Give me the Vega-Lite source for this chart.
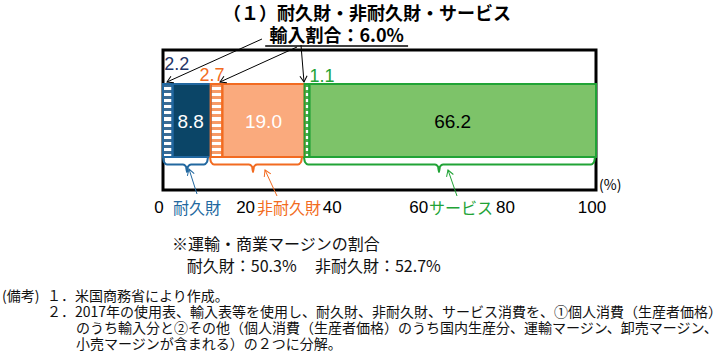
{
  "$schema": "https://vega.github.io/schema/vega-lite/v6.json",
  "width": 433,
  "height": 140,
  "autosize": {"type": "none"},
  "padding": {"left": 163, "top": 50, "right": 132, "bottom": 162},
  "background": "white",
  "config": {"view": {"stroke": "#000000", "strokeWidth": 3}},
  "datasets": {
    "bars": [
      {"seq": 1, "seg": "imp_durable", "grp": "durable", "value": 2.2},
      {"seq": 2, "seg": "durable", "grp": "durable", "value": 8.8},
      {"seq": 3, "seg": "imp_nondurable", "grp": "nondurable", "value": 2.7},
      {"seq": 4, "seg": "nondurable", "grp": "nondurable", "value": 19.0},
      {"seq": 5, "seg": "imp_services", "grp": "services", "value": 1.1},
      {"seq": 6, "seg": "services", "grp": "services", "value": 66.2}
    ],
    "braces": [
      {"brace": "durable", "i": 1, "x": 0, "y": 3.3},
      {"brace": "durable", "i": 2, "x": 0.23, "y": 2.8},
      {"brace": "durable", "i": 3, "x": 0.92, "y": 2.55},
      {"brace": "durable", "i": 4, "x": 4.62, "y": 2.55},
      {"brace": "durable", "i": 5, "x": 5.31, "y": 2.35},
      {"brace": "durable", "i": 6, "x": 5.54, "y": 1.8},
      {"brace": "durable", "i": 7, "x": 5.77, "y": 2.35},
      {"brace": "durable", "i": 8, "x": 6.47, "y": 2.55},
      {"brace": "durable", "i": 9, "x": 9.47, "y": 2.55},
      {"brace": "durable", "i": 10, "x": 10.16, "y": 2.8},
      {"brace": "durable", "i": 11, "x": 10.39, "y": 3.3},
      {"brace": "nondurable", "i": 1, "x": 10.85, "y": 3.3},
      {"brace": "nondurable", "i": 2, "x": 11.09, "y": 2.8},
      {"brace": "nondurable", "i": 3, "x": 11.78, "y": 2.55},
      {"brace": "nondurable", "i": 4, "x": 19.86, "y": 2.55},
      {"brace": "nondurable", "i": 5, "x": 20.55, "y": 2.35},
      {"brace": "nondurable", "i": 6, "x": 20.79, "y": 1.8},
      {"brace": "nondurable", "i": 7, "x": 21.02, "y": 2.35},
      {"brace": "nondurable", "i": 8, "x": 21.71, "y": 2.55},
      {"brace": "nondurable", "i": 9, "x": 31.18, "y": 2.55},
      {"brace": "nondurable", "i": 10, "x": 31.87, "y": 2.8},
      {"brace": "nondurable", "i": 11, "x": 32.1, "y": 3.3},
      {"brace": "services", "i": 1, "x": 32.56, "y": 3.3},
      {"brace": "services", "i": 2, "x": 32.79, "y": 2.8},
      {"brace": "services", "i": 3, "x": 33.49, "y": 2.55},
      {"brace": "services", "i": 4, "x": 62.82, "y": 2.55},
      {"brace": "services", "i": 5, "x": 63.51, "y": 2.35},
      {"brace": "services", "i": 6, "x": 63.74, "y": 1.8},
      {"brace": "services", "i": 7, "x": 63.97, "y": 2.35},
      {"brace": "services", "i": 8, "x": 64.67, "y": 2.55},
      {"brace": "services", "i": 9, "x": 98.85, "y": 2.55},
      {"brace": "services", "i": 10, "x": 99.54, "y": 2.8},
      {"brace": "services", "i": 11, "x": 99.77, "y": 3.3}
    ],
    "arrows": [
      {"kind": "arrow", "x": 22.86, "y": 15.1, "x2": 0.92, "y2": 10.8, "heading": 65.6, "tone": "neutral"},
      {"kind": "arrow", "x": 30.95, "y": 14.3, "x2": 13.16, "y2": 10.8, "heading": 65.6, "tone": "neutral"},
      {"kind": "arrow", "x": 31.87, "y": 14.5, "x2": 32.56, "y2": 10.8, "heading": -4.6, "tone": "neutral"},
      {"kind": "arrow", "x": 7.85, "y": -0.4, "x2": 6.0, "y2": 2.1, "heading": 162.3, "tone": "durable"},
      {"kind": "arrow", "x": 26.33, "y": -0.6, "x2": 23.56, "y2": 2.0, "heading": 155.2, "tone": "nondurable"},
      {"kind": "arrow", "x": 67.9, "y": -0.6, "x2": 65.82, "y2": 2.0, "heading": 160.9, "tone": "services"},
      {"kind": "underline", "x": 23.6, "y": 14.4, "x2": 56.6, "y2": 14.4, "heading": 0, "tone": "neutral"}
    ],
    "texts": [
      {"kind": "title", "text": "（１）耐久財・非耐久財・サービス", "x": 47.1, "y": 17.5, "tone": "neutral"},
      {"kind": "subtitle", "text": "輸入割合：6.0%", "x": 40.1, "y": 15.35, "tone": "neutral"},
      {"kind": "callout", "text": "2.2", "x": 3.2, "y": 12.5, "tone": "durable_dark"},
      {"kind": "callout", "text": "2.7", "x": 11.3, "y": 11.4, "tone": "nondurable"},
      {"kind": "callout", "text": "1.1", "x": 36.7, "y": 11.3, "tone": "services"},
      {"kind": "inbar", "text": "8.8", "x": 6.4, "y": 6.8, "tone": "inside_light"},
      {"kind": "inbar", "text": "19.0", "x": 23.2, "y": 6.8, "tone": "inside_light"},
      {"kind": "inbar", "text": "66.2", "x": 66.9, "y": 6.8, "tone": "neutral"},
      {"kind": "tick", "text": "0", "x": 0, "y": -1.8, "tone": "neutral"},
      {"kind": "tick", "text": "20", "x": 20, "y": -1.8, "tone": "neutral"},
      {"kind": "tick", "text": "40", "x": 40, "y": -1.8, "tone": "neutral"},
      {"kind": "tick", "text": "60", "x": 60, "y": -1.8, "tone": "neutral"},
      {"kind": "tick", "text": "80", "x": 80, "y": -1.8, "tone": "neutral"},
      {"kind": "tick", "text": "100", "x": 100, "y": -1.8, "tone": "neutral"},
      {"kind": "category", "text": "耐久財", "x": 7.85, "y": -1.9, "tone": "durable"},
      {"kind": "category", "text": "非耐久財", "x": 29.1, "y": -1.9, "tone": "nondurable"},
      {"kind": "category", "text": "サービス", "x": 68.8, "y": -1.9, "tone": "services"},
      {"kind": "unit", "text": "(%)", "x": 100.7, "y": 0.4, "tone": "neutral"},
      {"kind": "margin", "text": "※運輸・商業マージンの割合", "x": 2.1, "y": -5.5, "tone": "neutral"},
      {"kind": "margin", "text": "耐久財：50.3%", "x": 5.5, "y": -7.7, "tone": "neutral"},
      {"kind": "margin", "text": "非耐久財：52.7%", "x": 35.1, "y": -7.7, "tone": "neutral"},
      {"kind": "note", "text": "(備考)", "x": -37.2, "y": -10.7, "tone": "neutral"},
      {"kind": "note", "text": "１．米国商務省により作成。", "x": -26.8, "y": -10.7, "tone": "neutral"},
      {"kind": "note", "text": "２．2017年の使用表、輸入表等を使用し、耐久財、非耐久財、サービス消費を、①個人消費（生産者価格）", "x": -26.8, "y": -12.3, "tone": "neutral"},
      {"kind": "note", "text": "のうち輸入分と②その他（個人消費（生産者価格）のうち国内生産分、運輸マージン、卸売マージン、", "x": -20.1, "y": -13.9, "tone": "neutral"},
      {"kind": "note", "text": "小売マージンが含まれる）の２つに分解。", "x": -20.1, "y": -15.5, "tone": "neutral"}
    ]
  },
  "layer": [
    {
      "data": {"name": "bars"},
      "transform": [{"stack": "value", "groupby": [], "sort": [{"field": "seq", "order": "ascending"}], "as": ["x0", "x1"]}],
      "mark": {"type": "rect"},
      "encoding": {
        "x": {"field": "x0", "type": "quantitative", "scale": {"domain": [0, 100], "nice": false, "zero": false}, "axis": null},
        "x2": {"field": "x1"},
        "y": {"datum": 10.6, "type": "quantitative", "scale": {"domain": [0, 14], "nice": false, "zero": false}, "axis": null},
        "y2": {"datum": 3.3},
        "fill": {"field": "seg", "type": "nominal", "legend": null,
          "scale": {"domain": ["imp_durable", "durable", "imp_nondurable", "nondurable", "imp_services", "services"],
                    "range": ["#ffffff", "#0b4567", "#ffffff", "#faaa7d", "#ffffff", "#7dc369"]}}
      }
    },
    {
      "data": {"name": "bars"},
      "transform": [{"stack": "value", "groupby": [], "sort": [{"field": "seq", "order": "ascending"}], "as": ["x0", "x1"]}, {"filter": {"field": "seg", "equal": "imp_durable"}}],
      "mark": {"type": "rect", "fill": {"gradient": "linear", "x1": 0, "y1": 0, "x2": 0, "y2": 1, "stops": [
        {"offset": 0, "color": "#3b6b93"}, {"offset": 0.0417, "color": "#3b6b93"}, {"offset": 0.0417, "color": "#ffffff"}, {"offset": 0.0833, "color": "#ffffff"},
        {"offset": 0.0833, "color": "#3b6b93"}, {"offset": 0.125, "color": "#3b6b93"}, {"offset": 0.125, "color": "#ffffff"}, {"offset": 0.1667, "color": "#ffffff"},
        {"offset": 0.1667, "color": "#3b6b93"}, {"offset": 0.2083, "color": "#3b6b93"}, {"offset": 0.2083, "color": "#ffffff"}, {"offset": 0.25, "color": "#ffffff"},
        {"offset": 0.25, "color": "#3b6b93"}, {"offset": 0.2917, "color": "#3b6b93"}, {"offset": 0.2917, "color": "#ffffff"}, {"offset": 0.3333, "color": "#ffffff"},
        {"offset": 0.3333, "color": "#3b6b93"}, {"offset": 0.375, "color": "#3b6b93"}, {"offset": 0.375, "color": "#ffffff"}, {"offset": 0.4167, "color": "#ffffff"},
        {"offset": 0.4167, "color": "#3b6b93"}, {"offset": 0.4583, "color": "#3b6b93"}, {"offset": 0.4583, "color": "#ffffff"}, {"offset": 0.5, "color": "#ffffff"},
        {"offset": 0.5, "color": "#3b6b93"}, {"offset": 0.5417, "color": "#3b6b93"}, {"offset": 0.5417, "color": "#ffffff"}, {"offset": 0.5833, "color": "#ffffff"},
        {"offset": 0.5833, "color": "#3b6b93"}, {"offset": 0.625, "color": "#3b6b93"}, {"offset": 0.625, "color": "#ffffff"}, {"offset": 0.6667, "color": "#ffffff"},
        {"offset": 0.6667, "color": "#3b6b93"}, {"offset": 0.7083, "color": "#3b6b93"}, {"offset": 0.7083, "color": "#ffffff"}, {"offset": 0.75, "color": "#ffffff"},
        {"offset": 0.75, "color": "#3b6b93"}, {"offset": 0.7917, "color": "#3b6b93"}, {"offset": 0.7917, "color": "#ffffff"}, {"offset": 0.8333, "color": "#ffffff"},
        {"offset": 0.8333, "color": "#3b6b93"}, {"offset": 0.875, "color": "#3b6b93"}, {"offset": 0.875, "color": "#ffffff"}, {"offset": 0.9167, "color": "#ffffff"},
        {"offset": 0.9167, "color": "#3b6b93"}, {"offset": 0.9583, "color": "#3b6b93"}, {"offset": 0.9583, "color": "#ffffff"}, {"offset": 1, "color": "#ffffff"}]}},
      "encoding": {
        "x": {"field": "x0", "type": "quantitative", "scale": {"domain": [0, 100], "nice": false, "zero": false}, "axis": null},
        "x2": {"field": "x1"},
        "y": {"datum": 10.6, "type": "quantitative", "scale": {"domain": [0, 14], "nice": false, "zero": false}, "axis": null},
        "y2": {"datum": 3.3}
      }
    },
    {
      "data": {"name": "bars"},
      "transform": [{"stack": "value", "groupby": [], "sort": [{"field": "seq", "order": "ascending"}], "as": ["x0", "x1"]}, {"filter": {"field": "seg", "equal": "imp_nondurable"}}],
      "mark": {"type": "rect", "fill": {"gradient": "linear", "x1": 0, "y1": 0, "x2": 0, "y2": 1, "stops": [
        {"offset": 0, "color": "#f79a66"}, {"offset": 0.0417, "color": "#f79a66"}, {"offset": 0.0417, "color": "#ffffff"}, {"offset": 0.0833, "color": "#ffffff"},
        {"offset": 0.0833, "color": "#f79a66"}, {"offset": 0.125, "color": "#f79a66"}, {"offset": 0.125, "color": "#ffffff"}, {"offset": 0.1667, "color": "#ffffff"},
        {"offset": 0.1667, "color": "#f79a66"}, {"offset": 0.2083, "color": "#f79a66"}, {"offset": 0.2083, "color": "#ffffff"}, {"offset": 0.25, "color": "#ffffff"},
        {"offset": 0.25, "color": "#f79a66"}, {"offset": 0.2917, "color": "#f79a66"}, {"offset": 0.2917, "color": "#ffffff"}, {"offset": 0.3333, "color": "#ffffff"},
        {"offset": 0.3333, "color": "#f79a66"}, {"offset": 0.375, "color": "#f79a66"}, {"offset": 0.375, "color": "#ffffff"}, {"offset": 0.4167, "color": "#ffffff"},
        {"offset": 0.4167, "color": "#f79a66"}, {"offset": 0.4583, "color": "#f79a66"}, {"offset": 0.4583, "color": "#ffffff"}, {"offset": 0.5, "color": "#ffffff"},
        {"offset": 0.5, "color": "#f79a66"}, {"offset": 0.5417, "color": "#f79a66"}, {"offset": 0.5417, "color": "#ffffff"}, {"offset": 0.5833, "color": "#ffffff"},
        {"offset": 0.5833, "color": "#f79a66"}, {"offset": 0.625, "color": "#f79a66"}, {"offset": 0.625, "color": "#ffffff"}, {"offset": 0.6667, "color": "#ffffff"},
        {"offset": 0.6667, "color": "#f79a66"}, {"offset": 0.7083, "color": "#f79a66"}, {"offset": 0.7083, "color": "#ffffff"}, {"offset": 0.75, "color": "#ffffff"},
        {"offset": 0.75, "color": "#f79a66"}, {"offset": 0.7917, "color": "#f79a66"}, {"offset": 0.7917, "color": "#ffffff"}, {"offset": 0.8333, "color": "#ffffff"},
        {"offset": 0.8333, "color": "#f79a66"}, {"offset": 0.875, "color": "#f79a66"}, {"offset": 0.875, "color": "#ffffff"}, {"offset": 0.9167, "color": "#ffffff"},
        {"offset": 0.9167, "color": "#f79a66"}, {"offset": 0.9583, "color": "#f79a66"}, {"offset": 0.9583, "color": "#ffffff"}, {"offset": 1, "color": "#ffffff"}]}},
      "encoding": {
        "x": {"field": "x0", "type": "quantitative", "scale": {"domain": [0, 100], "nice": false, "zero": false}, "axis": null},
        "x2": {"field": "x1"},
        "y": {"datum": 10.6, "type": "quantitative", "scale": {"domain": [0, 14], "nice": false, "zero": false}, "axis": null},
        "y2": {"datum": 3.3}
      }
    },
    {
      "data": {"name": "bars"},
      "transform": [{"stack": "value", "groupby": [], "sort": [{"field": "seq", "order": "ascending"}], "as": ["x0", "x1"]}, {"filter": {"field": "seg", "equal": "imp_services"}}],
      "mark": {"type": "rect", "fill": {"gradient": "linear", "x1": 0, "y1": 0, "x2": 0, "y2": 1, "stops": [
        {"offset": 0, "color": "#49b050"}, {"offset": 0.0417, "color": "#49b050"}, {"offset": 0.0417, "color": "#ffffff"}, {"offset": 0.0833, "color": "#ffffff"},
        {"offset": 0.0833, "color": "#49b050"}, {"offset": 0.125, "color": "#49b050"}, {"offset": 0.125, "color": "#ffffff"}, {"offset": 0.1667, "color": "#ffffff"},
        {"offset": 0.1667, "color": "#49b050"}, {"offset": 0.2083, "color": "#49b050"}, {"offset": 0.2083, "color": "#ffffff"}, {"offset": 0.25, "color": "#ffffff"},
        {"offset": 0.25, "color": "#49b050"}, {"offset": 0.2917, "color": "#49b050"}, {"offset": 0.2917, "color": "#ffffff"}, {"offset": 0.3333, "color": "#ffffff"},
        {"offset": 0.3333, "color": "#49b050"}, {"offset": 0.375, "color": "#49b050"}, {"offset": 0.375, "color": "#ffffff"}, {"offset": 0.4167, "color": "#ffffff"},
        {"offset": 0.4167, "color": "#49b050"}, {"offset": 0.4583, "color": "#49b050"}, {"offset": 0.4583, "color": "#ffffff"}, {"offset": 0.5, "color": "#ffffff"},
        {"offset": 0.5, "color": "#49b050"}, {"offset": 0.5417, "color": "#49b050"}, {"offset": 0.5417, "color": "#ffffff"}, {"offset": 0.5833, "color": "#ffffff"},
        {"offset": 0.5833, "color": "#49b050"}, {"offset": 0.625, "color": "#49b050"}, {"offset": 0.625, "color": "#ffffff"}, {"offset": 0.6667, "color": "#ffffff"},
        {"offset": 0.6667, "color": "#49b050"}, {"offset": 0.7083, "color": "#49b050"}, {"offset": 0.7083, "color": "#ffffff"}, {"offset": 0.75, "color": "#ffffff"},
        {"offset": 0.75, "color": "#49b050"}, {"offset": 0.7917, "color": "#49b050"}, {"offset": 0.7917, "color": "#ffffff"}, {"offset": 0.8333, "color": "#ffffff"},
        {"offset": 0.8333, "color": "#49b050"}, {"offset": 0.875, "color": "#49b050"}, {"offset": 0.875, "color": "#ffffff"}, {"offset": 0.9167, "color": "#ffffff"},
        {"offset": 0.9167, "color": "#49b050"}, {"offset": 0.9583, "color": "#49b050"}, {"offset": 0.9583, "color": "#ffffff"}, {"offset": 1, "color": "#ffffff"}]}},
      "encoding": {
        "x": {"field": "x0", "type": "quantitative", "scale": {"domain": [0, 100], "nice": false, "zero": false}, "axis": null},
        "x2": {"field": "x1"},
        "y": {"datum": 10.6, "type": "quantitative", "scale": {"domain": [0, 14], "nice": false, "zero": false}, "axis": null},
        "y2": {"datum": 3.3}
      }
    },
    {
      "data": {"name": "bars"},
      "transform": [{"stack": "value", "groupby": [], "sort": [{"field": "seq", "order": "ascending"}], "as": ["x0", "x1"]}],
      "mark": {"type": "rect", "filled": false, "strokeWidth": 2},
      "encoding": {
        "x": {"field": "x0", "type": "quantitative", "scale": {"domain": [0, 100], "nice": false, "zero": false}, "axis": null},
        "x2": {"field": "x1"},
        "y": {"datum": 10.6, "type": "quantitative", "scale": {"domain": [0, 14], "nice": false, "zero": false}, "axis": null},
        "y2": {"datum": 3.3},
        "color": {"field": "grp", "type": "nominal", "legend": null,
          "scale": {"domain": ["durable", "durable_dark", "nondurable", "services", "neutral", "inside_light"],
                    "range": ["#2268a0", "#1f3566", "#f26b21", "#21a336", "#000000", "#ffffff"]}}
      }
    },
    {
      "data": {"name": "braces"},
      "mark": {"type": "line", "interpolate": "monotone", "strokeWidth": 2},
      "encoding": {
        "x": {"field": "x", "type": "quantitative", "scale": {"domain": [0, 100], "nice": false, "zero": false}, "axis": null},
        "y": {"field": "y", "type": "quantitative", "scale": {"domain": [0, 14], "nice": false, "zero": false}, "axis": null},
        "detail": {"field": "brace"},
        "order": {"field": "i", "type": "quantitative"},
        "color": {"field": "brace", "type": "nominal", "legend": null,
          "scale": {"domain": ["durable", "durable_dark", "nondurable", "services", "neutral", "inside_light"],
                    "range": ["#2268a0", "#1f3566", "#f26b21", "#21a336", "#000000", "#ffffff"]}}
      }
    },
    {
      "data": {"name": "arrows"},
      "transform": [{"filter": {"field": "kind", "equal": "arrow"}}],
      "mark": {"type": "rule", "strokeWidth": 1},
      "encoding": {
        "x": {"field": "x", "type": "quantitative", "scale": {"domain": [0, 100], "nice": false, "zero": false}, "axis": null},
        "y": {"field": "y", "type": "quantitative", "scale": {"domain": [0, 14], "nice": false, "zero": false}, "axis": null},
        "x2": {"field": "x2"},
        "y2": {"field": "y2"},
        "color": {"field": "tone", "type": "nominal", "legend": null,
          "scale": {"domain": ["durable", "durable_dark", "nondurable", "services", "neutral", "inside_light"],
                    "range": ["#2268a0", "#1f3566", "#f26b21", "#21a336", "#000000", "#ffffff"]}}
      }
    },
    {
      "data": {"name": "arrows"},
      "transform": [{"filter": {"field": "kind", "equal": "arrow"}}],
      "mark": {"type": "point", "shape": "M-0.6,-1L0,0L0.6,-1", "filled": false, "strokeWidth": 1, "size": 144, "opacity": 1},
      "encoding": {
        "x": {"field": "x2", "type": "quantitative", "scale": {"domain": [0, 100], "nice": false, "zero": false}, "axis": null},
        "y": {"field": "y2", "type": "quantitative", "scale": {"domain": [0, 14], "nice": false, "zero": false}, "axis": null},
        "angle": {"field": "heading", "type": "quantitative", "scale": null},
        "color": {"field": "tone", "type": "nominal", "legend": null,
          "scale": {"domain": ["durable", "durable_dark", "nondurable", "services", "neutral", "inside_light"],
                    "range": ["#2268a0", "#1f3566", "#f26b21", "#21a336", "#000000", "#ffffff"]}}
      }
    },
    {
      "data": {"name": "arrows"},
      "transform": [{"filter": {"field": "kind", "equal": "underline"}}],
      "mark": {"type": "rule", "strokeWidth": 1.6, "color": "#000000"},
      "encoding": {
        "x": {"field": "x", "type": "quantitative", "scale": {"domain": [0, 100], "nice": false, "zero": false}, "axis": null},
        "y": {"field": "y", "type": "quantitative", "scale": {"domain": [0, 14], "nice": false, "zero": false}, "axis": null},
        "x2": {"field": "x2"}
      }
    },
    {
      "data": {"name": "texts"},
      "transform": [{"filter": {"field": "kind", "oneOf": ["title", "subtitle"]}}],
      "mark": {"type": "text", "font": "Noto Sans CJK JP", "fontSize": 18, "fontWeight": "bold", "align": "center", "baseline": "middle"},
      "encoding": {
        "x": {"field": "x", "type": "quantitative", "scale": {"domain": [0, 100], "nice": false, "zero": false}, "axis": null},
        "y": {"field": "y", "type": "quantitative", "scale": {"domain": [0, 14], "nice": false, "zero": false}, "axis": null},
        "text": {"field": "text"},
        "color": {"value": "#000000"}
      }
    },
    {
      "data": {"name": "texts"},
      "transform": [{"filter": {"field": "kind", "equal": "callout"}}],
      "mark": {"type": "text", "font": "Liberation Sans Narrow, Liberation Sans, sans-serif", "fontSize": 18, "align": "center", "baseline": "middle"},
      "encoding": {
        "x": {"field": "x", "type": "quantitative", "scale": {"domain": [0, 100], "nice": false, "zero": false}, "axis": null},
        "y": {"field": "y", "type": "quantitative", "scale": {"domain": [0, 14], "nice": false, "zero": false}, "axis": null},
        "text": {"field": "text"},
        "color": {"field": "tone", "type": "nominal", "legend": null,
          "scale": {"domain": ["durable", "durable_dark", "nondurable", "services", "neutral", "inside_light"],
                    "range": ["#2268a0", "#1f3566", "#f26b21", "#21a336", "#000000", "#ffffff"]}}
      }
    },
    {
      "data": {"name": "texts"},
      "transform": [{"filter": {"field": "kind", "equal": "inbar"}}],
      "mark": {"type": "text", "font": "Liberation Sans Narrow, Liberation Sans, sans-serif", "fontSize": 19, "align": "center", "baseline": "middle"},
      "encoding": {
        "x": {"field": "x", "type": "quantitative", "scale": {"domain": [0, 100], "nice": false, "zero": false}, "axis": null},
        "y": {"field": "y", "type": "quantitative", "scale": {"domain": [0, 14], "nice": false, "zero": false}, "axis": null},
        "text": {"field": "text"},
        "color": {"field": "tone", "type": "nominal", "legend": null,
          "scale": {"domain": ["durable", "durable_dark", "nondurable", "services", "neutral", "inside_light"],
                    "range": ["#2268a0", "#1f3566", "#f26b21", "#21a336", "#000000", "#ffffff"]}}
      }
    },
    {
      "data": {"name": "texts"},
      "transform": [{"filter": {"field": "kind", "equal": "tick"}}],
      "mark": {"type": "text", "font": "Liberation Sans Narrow, Liberation Sans, sans-serif", "fontSize": 17, "align": "center", "baseline": "middle", "dx": -4},
      "encoding": {
        "x": {"field": "x", "type": "quantitative", "scale": {"domain": [0, 100], "nice": false, "zero": false}, "axis": null},
        "y": {"field": "y", "type": "quantitative", "scale": {"domain": [0, 14], "nice": false, "zero": false}, "axis": null},
        "text": {"field": "text"},
        "color": {"value": "#000000"}
      }
    },
    {
      "data": {"name": "texts"},
      "transform": [{"filter": {"field": "kind", "equal": "category"}}],
      "mark": {"type": "text", "font": "Noto Sans CJK JP", "fontSize": 16, "align": "center", "baseline": "middle"},
      "encoding": {
        "x": {"field": "x", "type": "quantitative", "scale": {"domain": [0, 100], "nice": false, "zero": false}, "axis": null},
        "y": {"field": "y", "type": "quantitative", "scale": {"domain": [0, 14], "nice": false, "zero": false}, "axis": null},
        "text": {"field": "text"},
        "color": {"field": "tone", "type": "nominal", "legend": null,
          "scale": {"domain": ["durable", "durable_dark", "nondurable", "services", "neutral", "inside_light"],
                    "range": ["#2268a0", "#1f3566", "#f26b21", "#21a336", "#000000", "#ffffff"]}}
      }
    },
    {
      "data": {"name": "texts"},
      "transform": [{"filter": {"field": "kind", "equal": "unit"}}],
      "mark": {"type": "text", "font": "Noto Sans CJK JP", "fontSize": 14, "align": "left", "baseline": "middle"},
      "encoding": {
        "x": {"field": "x", "type": "quantitative", "scale": {"domain": [0, 100], "nice": false, "zero": false}, "axis": null},
        "y": {"field": "y", "type": "quantitative", "scale": {"domain": [0, 14], "nice": false, "zero": false}, "axis": null},
        "text": {"field": "text"},
        "color": {"value": "#000000"}
      }
    },
    {
      "data": {"name": "texts"},
      "transform": [{"filter": {"field": "kind", "equal": "margin"}}],
      "mark": {"type": "text", "font": "Noto Sans CJK JP", "fontSize": 16, "align": "left", "baseline": "middle"},
      "encoding": {
        "x": {"field": "x", "type": "quantitative", "scale": {"domain": [0, 100], "nice": false, "zero": false}, "axis": null},
        "y": {"field": "y", "type": "quantitative", "scale": {"domain": [0, 14], "nice": false, "zero": false}, "axis": null},
        "text": {"field": "text"},
        "color": {"value": "#111111"}
      }
    },
    {
      "data": {"name": "texts"},
      "transform": [{"filter": {"field": "kind", "equal": "note"}}],
      "mark": {"type": "text", "font": "Noto Sans CJK JP", "fontSize": 14, "align": "left", "baseline": "middle"},
      "encoding": {
        "x": {"field": "x", "type": "quantitative", "scale": {"domain": [0, 100], "nice": false, "zero": false}, "axis": null},
        "y": {"field": "y", "type": "quantitative", "scale": {"domain": [0, 14], "nice": false, "zero": false}, "axis": null},
        "text": {"field": "text"},
        "color": {"value": "#111111"}
      }
    }
  ]
}
